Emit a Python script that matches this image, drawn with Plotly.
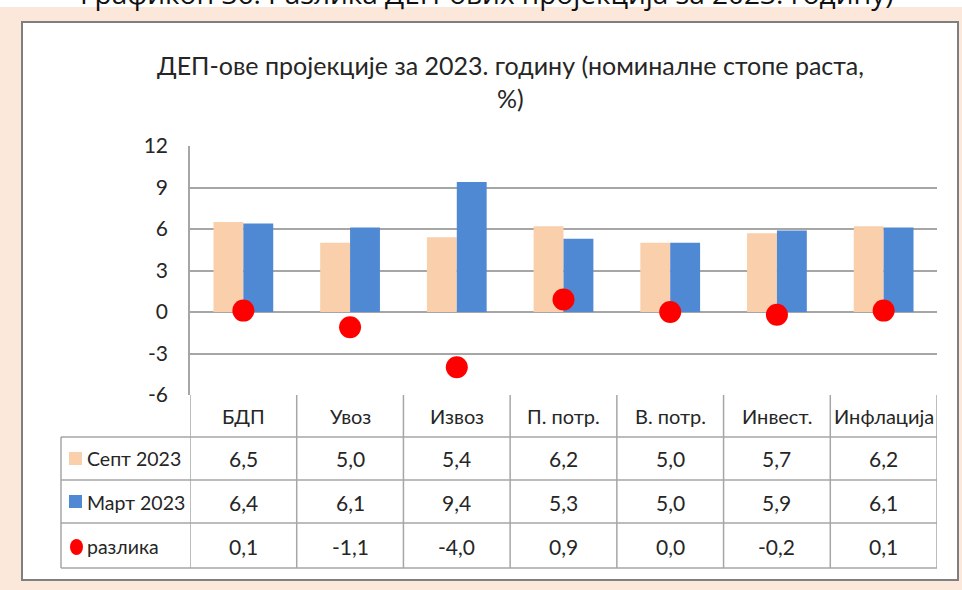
import plotly.graph_objects as go

# data
categories = ["БДП", "Увоз", "Извоз", "П. потр.", "В. потр.", "Инвест.", "Инфлација"]
series_names = ["Септ 2023", "Март 2023", "разлика"]
sept_2023 = [6.5, 5.0, 5.4, 6.2, 5.0, 5.7, 6.2]
mart_2023 = [6.4, 6.1, 9.4, 5.3, 5.0, 5.9, 6.1]
razlika = [0.1, -1.1, -4.0, 0.9, 0.0, -0.2, 0.1]
y_ticks = [-6, -3, 0, 3, 6, 9, 12]
y_tick_labels = ["-6", "-3", "0", "3", "6", "9", "12"]

title_text = "ДЕП-ове пројекције за 2023. годину (номиналне стопе раста,<br>%)"
caption_text = "Графикон 36: Разлика ДЕП-ових пројекција за 2023. годину)"

PEACH = "#FCE8DA"
SEPT_COLOR = "#F9CFAC"
MART_COLOR = "#5089D3"
DOT_COLOR = "#FF0000"
GRID = "#A6A6A6"
TEXT = "#262626"
FONT = "Lato, 'Open Sans', sans-serif"

W, H = 962, 590
L, R, T, B = 190, 25, 146, 195
PW, PH = W - L - R, H - T - B


def px(x):
    return (x - L) / PW


def py(y):
    return 1 - (y - T) / PH


fig = go.Figure()

fig.add_trace(go.Bar(x=categories, y=sept_2023, name=series_names[0],
                     marker=dict(color=SEPT_COLOR, line=dict(width=0))))
fig.add_trace(go.Bar(x=categories, y=mart_2023, name=series_names[1],
                     marker=dict(color=MART_COLOR, line=dict(width=0))))
fig.add_trace(go.Scatter(x=categories, y=razlika, name=series_names[2], mode="markers",
                         marker=dict(color=DOT_COLOR, size=22, symbol="circle")))

shapes = []
# white strip on top + chart box
shapes.append(dict(type="rect", xref="paper", yref="paper", x0=px(0), x1=px(W), y0=py(0), y1=py(7),
                   fillcolor="white", line=dict(width=0), layer="below"))
shapes.append(dict(type="rect", xref="paper", yref="paper", x0=px(22), x1=px(958), y0=py(22), y1=py(580),
                   fillcolor="white", line=dict(color="#7F7F7F", width=2), layer="below"))

# data table grid
row_lines = [437, 480, 523, 568]
for yy in row_lines:
    shapes.append(dict(type="line", xref="paper", yref="paper", x0=px(61), x1=px(937), y0=py(yy), y1=py(yy),
                       line=dict(color=GRID, width=1.5)))
shapes.append(dict(type="line", xref="paper", yref="paper", x0=px(61), x1=px(61), y0=py(437), y1=py(568),
                   line=dict(color=GRID, width=1.5)))
for i in range(len(categories) + 1):
    shapes.append(dict(type="line", xref="x", yref="paper", x0=i - 0.5, x1=i - 0.5, y0=0, y1=py(568),
                       line=dict(color=GRID, width=1.5)))

# legend keys in table
shapes.append(dict(type="rect", xref="paper", yref="paper", x0=px(69), x1=px(82), y0=py(452), y1=py(465),
                   fillcolor=SEPT_COLOR, line=dict(width=0)))
shapes.append(dict(type="rect", xref="paper", yref="paper", x0=px(69), x1=px(82), y0=py(495), y1=py(508),
                   fillcolor=MART_COLOR, line=dict(width=0)))
shapes.append(dict(type="circle", xref="paper", yref="paper", x0=px(70), x1=px(83), y0=py(539), y1=py(555),
                   fillcolor=DOT_COLOR, line=dict(width=0)))

annotations = []
annotations.append(dict(text=title_text, xref="paper", yref="paper", x=px(510), y=py(82),
                        xanchor="center", yanchor="middle",
                        showarrow=False, font=dict(family=FONT, size=25, color=TEXT), align="center"))
# caption of the page above the chart, cut off at the top edge as in the source
annotations.append(dict(text=caption_text, xref="paper", yref="paper", x=px(487), y=py(-7),
                        xanchor="center", yanchor="middle",
                        showarrow=False, font=dict(family="'Open Sans', sans-serif", size=28, color="#111111")))

for c in categories:
    annotations.append(dict(text=c, xref="x", yref="paper", x=c, y=py(416), xanchor="center", yanchor="middle",
                            showarrow=False, font=dict(family=FONT, size=20, color=TEXT)))

row_centers = [458, 502, 546]
row_values = [sept_2023, mart_2023, razlika]
for name, vals, yc in zip(series_names, row_values, row_centers):
    annotations.append(dict(text=name, xref="paper", yref="paper", x=px(85), y=py(yc),
                            xanchor="left", yanchor="middle",
                            showarrow=False, font=dict(family=FONT, size=19.5, color=TEXT)))
    for c, v in zip(categories, vals):
        annotations.append(dict(text=f"{v:.1f}".replace(".", ","), xref="x", yref="paper", x=c, y=py(yc),
                                xanchor="center", yanchor="middle",
                                showarrow=False, font=dict(family=FONT, size=21, color=TEXT)))

fig.update_layout(
    width=W, height=H,
    margin=dict(l=L, r=R, t=T, b=B, pad=0),
    paper_bgcolor=PEACH,
    plot_bgcolor="white",
    barmode="group",
    bargap=0.44,
    bargroupgap=0,
    showlegend=False,
    shapes=shapes,
    annotations=annotations,
    xaxis=dict(range=[-0.5, len(categories) - 0.5], showticklabels=False, showgrid=False,
               zeroline=False, showline=False, fixedrange=True),
    yaxis=dict(range=[-6, 12], tickvals=y_ticks, ticktext=y_tick_labels,
               showgrid=True, gridcolor=GRID, gridwidth=2,
               zeroline=True, zerolinecolor=GRID, zerolinewidth=2,
               showline=True, linecolor=GRID, linewidth=1.5,
               ticklabelstandoff=16,
               tickfont=dict(family=FONT, size=21, color=TEXT), fixedrange=True),
)

# drop the browser's default body margin so the figure sits at the window's top-left
fig.write_html("out.html", config={"displayModeBar": False},
               post_script="document.body.style.margin = '0';")
